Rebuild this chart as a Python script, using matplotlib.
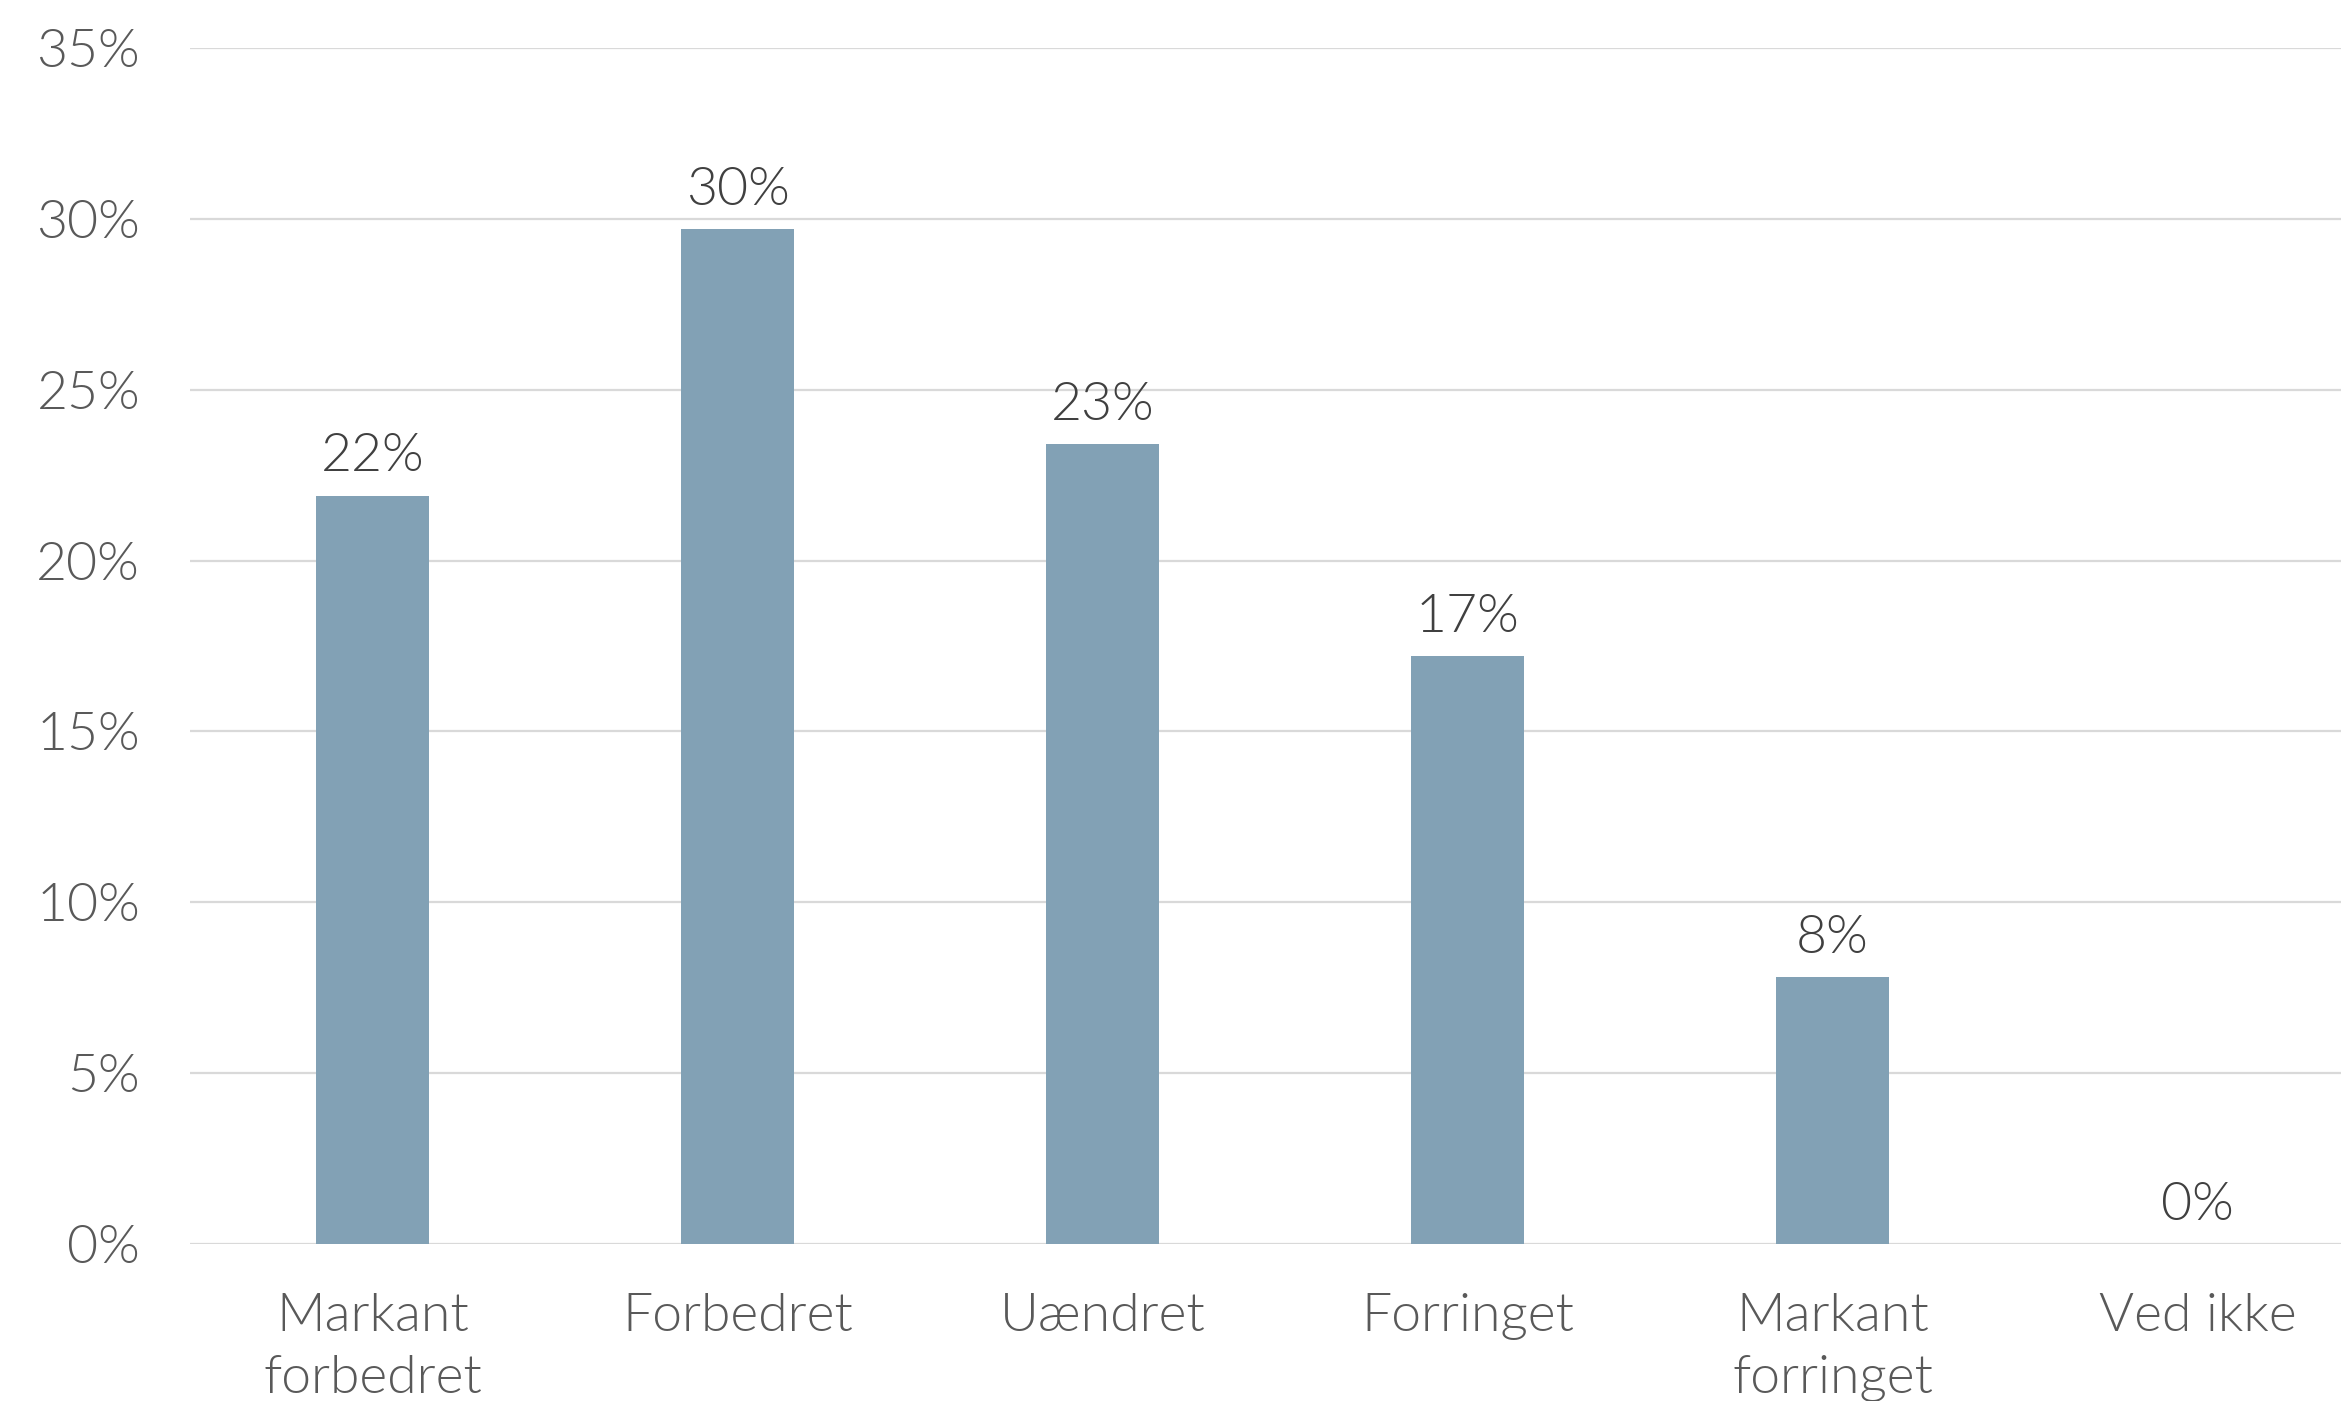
import matplotlib
matplotlib.use("Agg")
import matplotlib.pyplot as plt
from matplotlib.ticker import FuncFormatter

categories = ["Markant\nforbedret", "Forbedret", "Uændret", "Forringet",
              "Markant\nforringet", "Ved ikke"]
values = [21.9, 29.7, 23.4, 17.2, 7.8, 0.0]
labels = ["22%", "30%", "23%", "17%", "8%", "0%"]

plt.rcParams["font.family"] = ["Lato", "DejaVu Sans"]
plt.rcParams["font.weight"] = 300

fig = plt.figure(figsize=(23.41, 14.01), dpi=100)
ax = fig.add_axes([190 / 2341, 1 - 1244 / 1401, 1 - 190 / 2341, (1244 - 48) / 1401])

x = range(len(categories))
bars = ax.bar(x, values, width=0.31, color="#82A1B5", zorder=3)

fs = 38.5
for b, lab in zip(bars, labels):
    ax.annotate(lab, (b.get_x() + b.get_width() / 2, b.get_height()),
                xytext=(0, 11), textcoords="offset points",
                ha="center", va="bottom", fontsize=fs, color="#404040",
                fontweight=300)

ax.set_ylim(0, 35)
ax.set_xlim(-0.5, (2341 - 190) / 365 - 0.5)
ax.set_yticks(range(0, 36, 5))
ax.yaxis.set_major_formatter(FuncFormatter(lambda v, p: f"{v:.0f}%"))
ax.set_xticks(list(x))
ax.set_xticklabels(categories, fontsize=fs, color="#595959", linespacing=1.4,
                   fontweight=300)
for t in ax.get_yticklabels():
    t.set_fontweight(300)
ax.tick_params(axis="y", labelsize=fs, labelcolor="#595959", length=0, pad=36)
ax.tick_params(axis="x", length=0, pad=35)
ax.grid(axis="y", color="#D9D9D9", linewidth=1.6, zorder=0)
for s in ax.spines.values():
    s.set_visible(False)

fig.savefig("out.png", dpi=100)
